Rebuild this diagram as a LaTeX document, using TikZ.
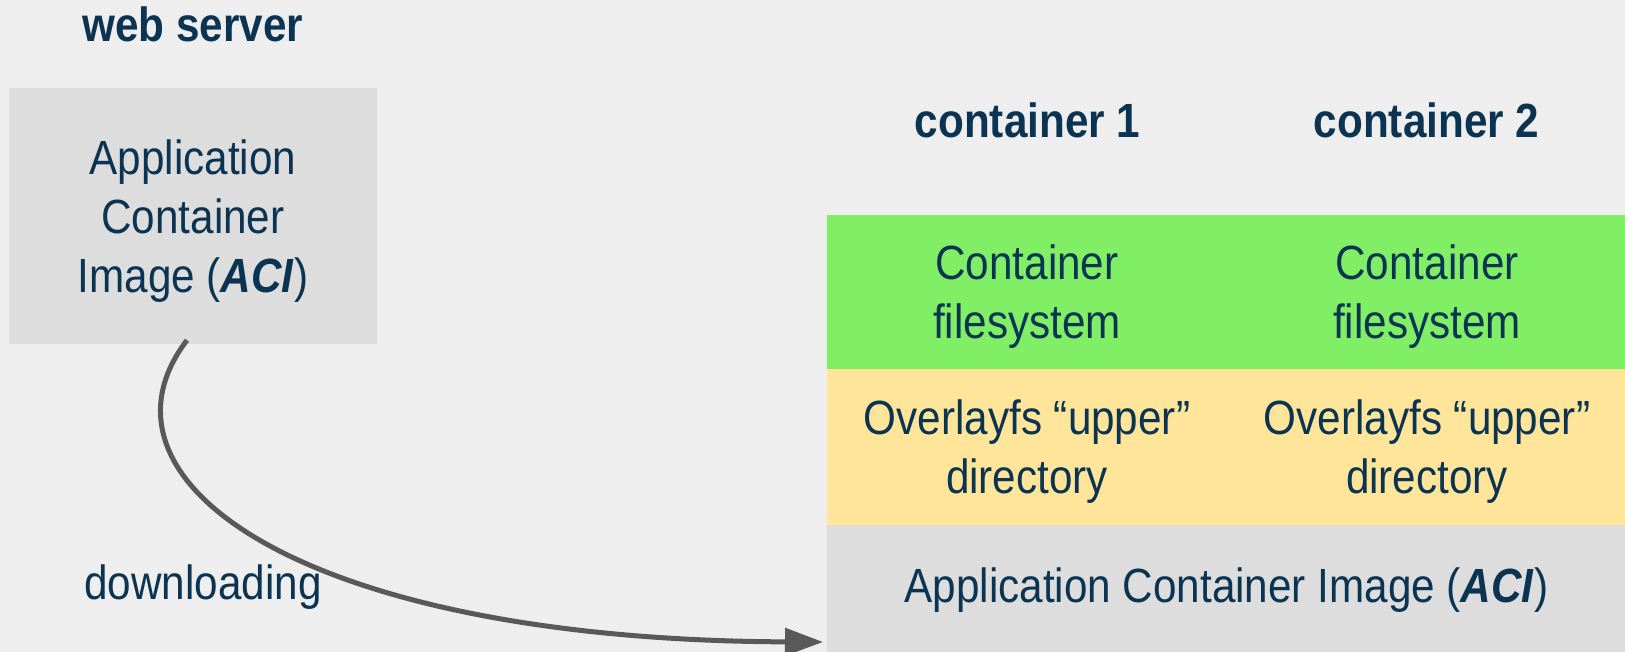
\documentclass[tikz,border=0pt]{standalone}
\usepackage{fontspec}
\setmainfont[FakeStretch=0.88]{Liberation Sans}
\usetikzlibrary{arrows.meta}

\definecolor{bggray}{HTML}{EEEEEE}
\definecolor{acigray}{HTML}{DDDDDD}
\definecolor{fsgreen}{HTML}{80EF66}
\definecolor{upperyellow}{HTML}{FFE599}
\definecolor{inkblue}{HTML}{0B3452}
\definecolor{arrowgray}{HTML}{595959}

\tikzset{
	txt/.style={text=inkblue, font=\fontsize{48}{59}\selectfont, align=center},
	hdr/.style={text=inkblue, font=\fontsize{48}{56}\selectfont\bfseries, anchor=base},
	twoline/.style={text depth=-4pt},
	layer/.style={txt, fill=#1, draw=#1, line width=1pt, inner sep=0pt, minimum width=399pt, anchor=north west},
	download/.style={draw=arrowgray, line width=5pt, -{Triangle[length=38pt,width=27pt]}}
}

\begin{document}
\begin{tikzpicture}[x=1pt, y=-1pt]%[minimum width=40]
	\fill [bggray] (0,0) rectangle (1625,652);
	\useasboundingbox (0,0) rectangle (1625,652);
	% web server side
	\node [hdr] (web) at (193,42) {web server};
	\node [txt, twoline, fill=acigray, minimum width=368pt, minimum height=256pt, inner sep=0pt] (aci) at (193,216)
		{Application\\Container\\Image (\textbf{\textit{ACI}})};
	\node [txt, anchor=base] (dl) at (203,599) {downloading};
	% the two containers
	\node [layer=fsgreen, twoline, minimum height=153pt] (fs1) at (827,215) {Container\\filesystem};
	\node [layer=fsgreen, twoline, minimum height=153pt] (fs2) at (fs1.north east) {Container\\filesystem};
	\node [layer=upperyellow, twoline, minimum height=155pt] (up1) at (fs1.south west) {Overlayfs “upper”\\directory};
	\node [layer=upperyellow, twoline, minimum height=155pt] (up2) at (up1.north east) {Overlayfs “upper”\\directory};
	\node [layer=acigray, minimum width=798pt, minimum height=129pt] (img) at (up1.south west)
		{Application Container Image (\textbf{\textit{ACI}})};
	\node [hdr] (c1) at (1027.5,138) {container 1};
	\node [hdr] (c2) at (1426.5,138) {container 2};
	\draw [download] ([xshift=-6pt,yshift=4pt]aci.south) .. controls (80,480) and (300,640) .. ([xshift=-4pt,yshift=-52pt]img.west);
\end{tikzpicture}
\end{document}
